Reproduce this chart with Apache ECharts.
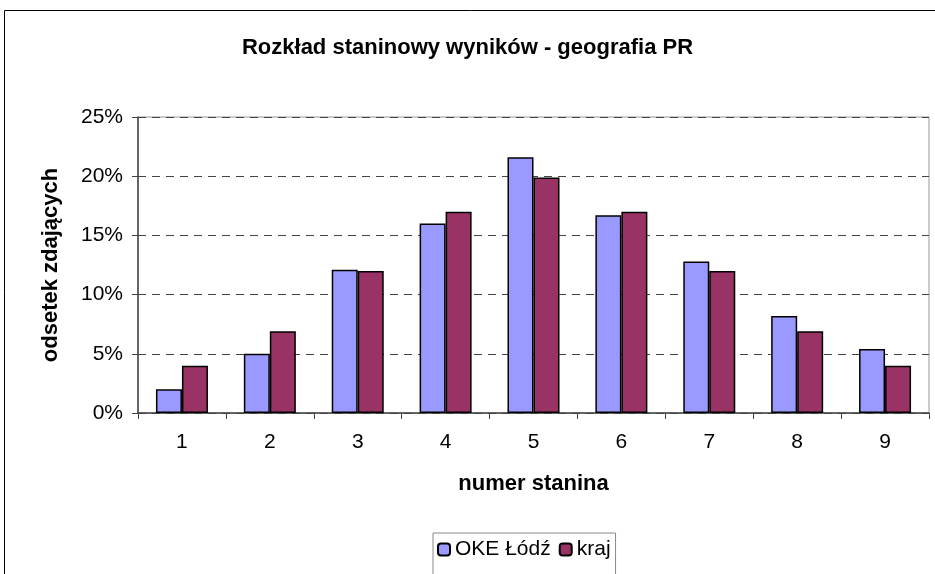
<!DOCTYPE html>
<html>
<head>
<meta charset="utf-8">
<script src="https://cdn.jsdelivr.net/npm/echarts@6/dist/echarts.min.js"></script>
<style>
  html, body { margin: 0; padding: 0; background: #fff; }
  #chart { width: 935px; height: 574px; }
</style>
</head>
<body>
<div id="chart"></div>
<script>
  // dane
  var staniny = ['1', '2', '3', '4', '5', '6', '7', '8', '9'];
  var okeLodz = [2.0, 5.0, 12.1, 16.0, 21.6, 16.7, 12.8, 8.2, 5.4];
  var kraj = [4.0, 6.9, 12.0, 17.0, 19.9, 17.0, 12.0, 6.9, 4.0];

  var font = '"Liberation Sans", Arial, sans-serif';
  var myChart = echarts.init(document.getElementById('chart'));

  myChart.setOption({
    animation: false,
    title: {
      text: 'Rozkład staninowy wyników - geografia PR',
      left: 'center',
      top: 32,
      textStyle: { fontFamily: font, fontSize: 22, fontWeight: 'bold', color: '#000' }
    },
    graphic: [{
      type: 'rect',
      shape: { x: 4.5, y: 10.5, width: 1000, height: 1000 },
      style: { fill: null, stroke: '#000', lineWidth: 1 },
      silent: true,
      z: -1
    }],
    legend: {
      left: 433,
      top: 533,
      itemWidth: 12,
      itemHeight: 12,
      itemGap: 8,
      padding: [6, 5, 20, 4],
      borderColor: '#888',
      borderWidth: 1,
      textStyle: { fontFamily: font, fontSize: 21, color: '#000' },
      data: ['OKE Łódź', 'kraj']
    },
    grid: {
      left: 138,
      right: 6,
      top: 117,
      bottom: 161,
      show: true,
      borderColor: '#999',
      borderWidth: 1
    },
    xAxis: {
      type: 'category',
      data: staniny,
      name: 'numer stanina',
      nameLocation: 'middle',
      nameGap: 60,
      nameTextStyle: { fontFamily: font, fontSize: 22, fontWeight: 'bold', color: '#000' },
      axisLine: { lineStyle: { color: '#444', width: 1.5 } },
      axisTick: { show: true, inside: false, length: 6, lineStyle: { color: '#444' } },
      axisLabel: { fontFamily: font, fontSize: 21, color: '#000', margin: 19 }
    },
    yAxis: {
      type: 'value',
      min: 0,
      max: 25,
      interval: 5,
      name: 'odsetek zdających',
      nameLocation: 'middle',
      nameGap: 76,
      nameTextStyle: { fontFamily: font, fontSize: 22, fontWeight: 'bold', color: '#000' },
      axisLine: { show: true, lineStyle: { color: '#444', width: 1.5 } },
      axisTick: { show: true, length: 6, lineStyle: { color: '#444' } },
      axisLabel: { fontFamily: font, fontSize: 21, color: '#000', margin: 15, formatter: '{value}%' },
      splitLine: { lineStyle: { color: '#444', type: [8, 6], width: 1 } }
    },
    series: [
      {
        name: 'OKE Łódź',
        type: 'bar',
        data: okeLodz,
        barWidth: 26,
        barGap: '0%',
        itemStyle: { color: '#9999FF', borderColor: '#000', borderWidth: 1.5 }
      },
      {
        name: 'kraj',
        type: 'bar',
        data: kraj,
        barWidth: 26,
        itemStyle: { color: '#993366', borderColor: '#000', borderWidth: 1.5 }
      }
    ]
  });
</script>
</body>
</html>
